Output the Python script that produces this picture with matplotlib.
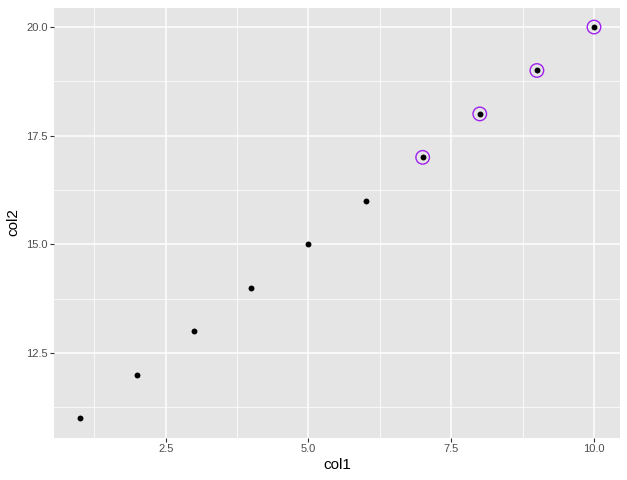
import matplotlib
matplotlib.use("Agg")
import matplotlib.pyplot as plt

plt.rcParams['font.family'] = ['Liberation Sans', 'DejaVu Sans']

col1 = [1, 2, 3, 4, 5, 6, 7, 8, 9, 10]
col2 = [11, 12, 13, 14, 15, 16, 17, 18, 19, 20]
hl_x = [7, 8, 9, 10]
hl_y = [17, 18, 19, 20]

fig = plt.figure(figsize=(6.27, 4.8), dpi=100)
ax = fig.add_axes([54.3 / 627, 42.5 / 480, 565.4 / 627, 430 / 480])
ax.set_facecolor("#E5E5E5")
ax.set_xlim(0.55, 10.45)
ax.set_ylim(10.55, 20.45)

xt = [2.5, 5.0, 7.5, 10.0]
yt = [12.5, 15.0, 17.5, 20.0]
ax.set_xticks(xt)
ax.set_yticks(yt)
ax.set_xticks([1.25, 3.75, 6.25, 8.75], minor=True)
ax.set_yticks([11.25, 13.75, 16.25, 18.75], minor=True)
ax.grid(True, which="major", color="white", linewidth=1.1)
ax.grid(True, which="minor", color="white", linewidth=0.55)
ax.set_axisbelow(True)
for s in ax.spines.values():
    s.set_visible(False)
ax.tick_params(which="major", length=2.75, width=0.8, color="#333333",
               labelsize=8, labelcolor="#4D4D4D", pad=2)
ax.tick_params(which="minor", length=0)

ax.scatter(col1, col2, s=18, color="black", zorder=3, linewidths=0)
ax.scatter(hl_x, hl_y, s=95, facecolors="none", edgecolors="#A020F0",
           linewidths=1.0, zorder=4)

ax.set_xlabel("col1", fontsize=11, labelpad=3)
ax.set_ylabel("col2", fontsize=11, labelpad=4)

fig.savefig("out.png", dpi=100)
